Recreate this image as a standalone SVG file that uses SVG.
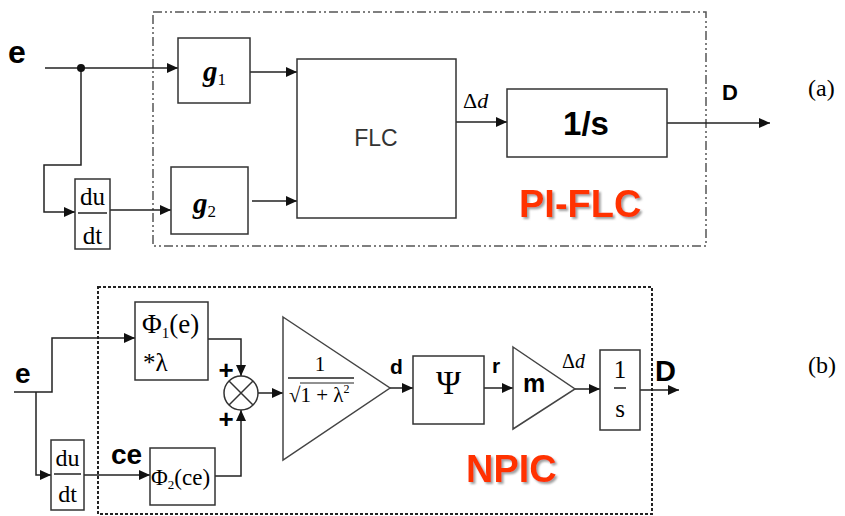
<svg xmlns="http://www.w3.org/2000/svg" width="845" height="516" viewBox="0 0 845 516">
<defs>
<marker id="arr" markerUnits="userSpaceOnUse" markerWidth="12" markerHeight="10" refX="11" refY="5" orient="auto">
<path d="M0,0 L11,5 L0,10 z" fill="#111"/>
</marker>
<filter id="shadow" x="-10%" y="-10%" width="130%" height="140%">
<feDropShadow dx="2" dy="2" stdDeviation="1" flood-color="#888" flood-opacity="0.8"/>
</filter>
<style>
.ln{fill:none;stroke:#222;stroke-width:1.5}
.bx{fill:#fff;stroke:#333;stroke-width:1.5}
.sans{font-family:"Liberation Sans",Arial,sans-serif}
.serif{font-family:"Liberation Serif","Times New Roman",serif}
.bold{font-weight:bold}
.red{font-family:"Liberation Sans",Arial,sans-serif;font-weight:bold;font-size:38px;fill:#FF3300;filter:url(#shadow)}
</style>
</defs>
<rect width="845" height="516" fill="#fff"/>

<!-- Panel (a) -->
<rect id="pi-flc-frame" x="153" y="12" width="553" height="234" fill="none" stroke="#555" stroke-width="1.5" stroke-dasharray="9 3 2 3 2 3"/>
<g id="connectors-a">
<path class="ln" d="M45,68 H178" marker-end="url(#arr)"/>
<path class="ln" d="M81,68 V165 H44 V212 H75" marker-end="url(#arr)"/>
<path class="ln" d="M110,210 H171" marker-end="url(#arr)"/>
<path class="ln" d="M250,72 H297" marker-end="url(#arr)"/>
<path class="ln" d="M252,201 H297" marker-end="url(#arr)"/>
<path class="ln" d="M456,122 H507" marker-end="url(#arr)"/>
<path class="ln" d="M667,123 H770" marker-end="url(#arr)"/>
<circle cx="81" cy="68" r="4" fill="#111"/>
</g>
<text class="sans bold" x="8" y="63" font-size="32">e</text>
<g id="dudt-a">
<rect class="bx" x="75" y="179" width="35" height="70"/>
<text class="serif" x="92.5" y="205" font-size="25" text-anchor="middle">du</text>
<line x1="78" y1="213" x2="107" y2="213" stroke="#222" stroke-width="1.5"/>
<text class="serif" x="92.5" y="244" font-size="25" text-anchor="middle">dt</text>
</g>
<g id="g1">
<rect class="bx" x="178" y="38" width="72" height="65"/>
<text class="serif" x="203" y="81" font-size="29"><tspan font-weight="bold" font-style="italic">g</tspan><tspan font-size="17" dy="4">1</tspan></text>
</g>
<g id="g2">
<rect class="bx" x="171" y="167" width="77" height="67"/>
<text class="serif" x="193" y="213" font-size="29"><tspan font-weight="bold" font-style="italic">g</tspan><tspan font-size="17" dy="4">2</tspan></text>
</g>
<g id="flc">
<rect class="bx" x="297" y="59" width="159" height="159"/>
<text class="sans" x="376" y="146" font-size="23" fill="#333" text-anchor="middle">FLC</text>
</g>
<text class="serif" x="463" y="108" font-size="22">Δ<tspan font-style="italic">d</tspan></text>
<g id="int-a">
<rect class="bx" x="507" y="89" width="160" height="68"/>
<text class="sans bold" x="586" y="135" font-size="33" text-anchor="middle">1/s</text>
</g>
<text class="sans bold" x="722" y="100" font-size="22">D</text>
<text class="serif" x="808" y="96" font-size="24">(a)</text>
<text class="red" x="519" y="217">PI-FLC</text>

<!-- Panel (b) -->
<rect id="npic-frame" x="98" y="287" width="554" height="227" fill="none" stroke="#222" stroke-width="2" stroke-dasharray="3 2"/>
<g id="connectors-b">
<path class="ln" d="M14,392 H52 V338 H135" marker-end="url(#arr)"/>
<path class="ln" d="M36,392 V475 H51" marker-end="url(#arr)"/>
<path class="ln" d="M84,475 H150" marker-end="url(#arr)"/>
<path class="ln" d="M208,339 H241 V376" marker-end="url(#arr)"/>
<path class="ln" d="M215,476 H241 V410" marker-end="url(#arr)"/>
<path class="ln" d="M258,393 H283" marker-end="url(#arr)"/>
<path class="ln" d="M390,388 H413" marker-end="url(#arr)"/>
<path class="ln" d="M484,388 H513" marker-end="url(#arr)"/>
<path class="ln" d="M575,389 H600" marker-end="url(#arr)"/>
<path class="ln" d="M640,390 H679" marker-end="url(#arr)"/>
</g>
<text class="sans bold" x="15" y="383" font-size="28">e</text>
<g id="dudt-b">
<rect class="bx" x="51" y="440" width="33" height="70"/>
<text class="serif" x="67.5" y="466" font-size="24" text-anchor="middle">du</text>
<line x1="54" y1="474" x2="81" y2="474" stroke="#222" stroke-width="1.5"/>
<text class="serif" x="67.5" y="502" font-size="24" text-anchor="middle">dt</text>
</g>
<text class="sans bold" x="111" y="464" font-size="28">ce</text>
<g id="phi1">
<rect class="bx" x="135" y="302" width="73" height="78"/>
<text class="serif" x="142" y="333" font-size="27">Φ<tspan font-size="15" dy="5">1</tspan><tspan dy="-5">(e)</tspan></text>
<text class="serif" x="143" y="371" font-size="25">*λ</text>
</g>
<g id="phi2">
<rect class="bx" x="150" y="448" width="65" height="57"/>
<text class="serif" x="151" y="485" font-size="23">Φ<tspan font-size="13" dy="4">2</tspan><tspan dy="-4">(ce)</tspan></text>
</g>
<g id="sum">
<circle cx="241" cy="393" r="17" fill="#fff" stroke="#333" stroke-width="1.5"/>
<path d="M229,381 L253,405 M253,381 L229,405" stroke="#333" stroke-width="1.5"/>
<text class="sans bold" x="226" y="379" font-size="26" text-anchor="middle">+</text>
<text class="sans bold" x="226" y="428" font-size="26" text-anchor="middle">+</text>
</g>
<g id="gain-norm">
<polygon points="283,317 390,388 283,460" fill="#fff" stroke="#444" stroke-width="1.5"/>
<text class="serif" x="320" y="371" font-size="21" text-anchor="middle">1</text>
<line x1="288" y1="378" x2="354" y2="378" stroke="#222" stroke-width="1.5"/>
<text class="serif" x="289" y="402" font-size="21">√<tspan>1 + λ</tspan><tspan font-size="12" dy="-9">2</tspan></text>
<line x1="300" y1="383" x2="354" y2="383" stroke="#222" stroke-width="1"/>
</g>
<text class="sans bold" x="390" y="374" font-size="21">d</text>
<g id="psi">
<rect class="bx" x="413" y="356" width="71" height="68"/>
<text class="serif" x="448.5" y="394" font-size="34" text-anchor="middle">Ψ</text>
</g>
<text class="sans bold" x="492" y="373" font-size="21">r</text>
<g id="gain-m">
<polygon points="513,347 575,389 513,429" fill="#fff" stroke="#444" stroke-width="1.5"/>
<text class="sans bold" x="523" y="392" font-size="25">m</text>
</g>
<text class="serif" x="562" y="368" font-size="20">Δ<tspan font-style="italic">d</tspan></text>
<g id="int-b">
<rect class="bx" x="600" y="350" width="40" height="80"/>
<text class="serif" x="620" y="378" font-size="25" text-anchor="middle">1</text>
<line x1="614" y1="388" x2="626" y2="388" stroke="#222" stroke-width="1.5"/>
<text class="serif" x="620" y="417" font-size="25" text-anchor="middle">s</text>
</g>
<text class="sans bold" x="655" y="381" font-size="29">D</text>
<text class="serif" x="808" y="373" font-size="24">(b)</text>
<text class="red" x="466" y="482">NPIC</text>
</svg>
